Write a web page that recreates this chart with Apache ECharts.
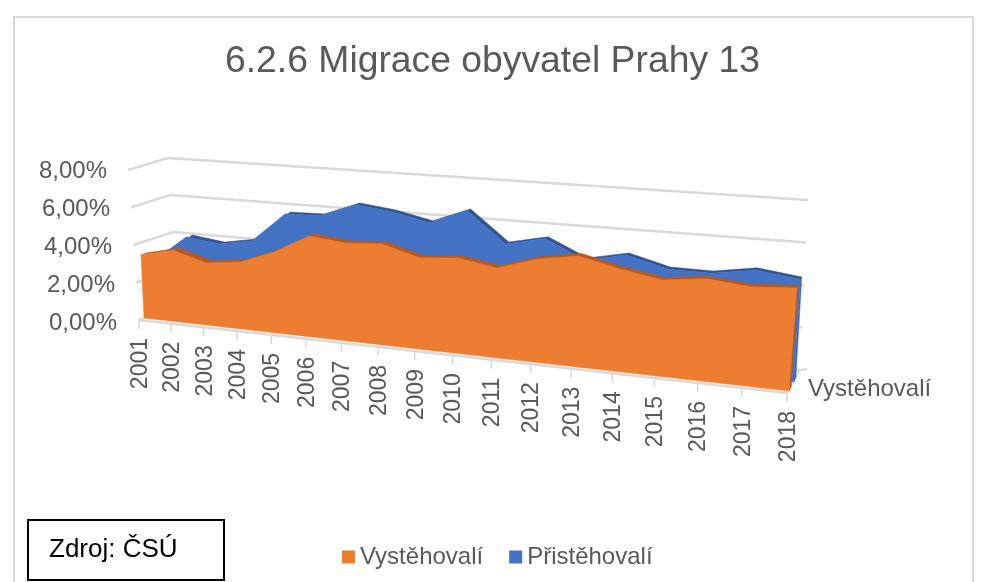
<!DOCTYPE html>
<html><head><meta charset="utf-8">
<style>html,body{margin:0;padding:0;background:#fff}#c{width:981px;height:582px}</style>
<script src="https://cdn.jsdelivr.net/npm/echarts@6/dist/echarts.min.js"></script>
</head><body><div id="c"></div>
<script>
const categories = ['2001','2002','2003','2004','2005','2006','2007','2008','2009','2010','2011','2012','2013','2014','2015','2016','2017','2018'];
const vystehovali = [3.35,3.76,3.24,3.45,4.12,5.08,4.87,4.97,4.44,4.59,4.27,4.85,5.14,4.70,4.36,4.57,4.38,4.50];
const pristehovali = [2.85,4.20,3.97,4.28,5.82,5.86,6.55,6.33,5.92,6.65,5.16,5.56,4.69,5.09,4.58,4.56,4.87,4.62];
const yTicks = [0,2,4,6,8];
const seriesAxisLabel = 'Vystěhovalí';

// Perspective projection settings of the 3D view
const FONT = '"Liberation Sans", Arial, sans-serif';
const TXT = '#595959', GRID = '#d9d9d9';
const GL = 139, GW = 648, GT = 170, GH = 152, YMAX = 8;
const R = 1.2;
const base = {fl:[144,318], fr:[789,391], dl:[34,-12], dr:[11,-21]};
const up = {fl:[-0.9,-18.8], fr:[1.75,-22.9], bl:[-1.25,-18.5], br:[1,-21.25]};
const wall = {fl:[139,320], fr:[787,393], bl:[178,306], br:[800,370], sideUp:[-1.375,-18.75]};
const lerp = (a,b,t)=>a+(b-a)*t;
const persp = u => u/(u+(1-u)*R);

// grid pixel -> projected pixel
function gridNorm(pt){ return [(pt[0]-GL)/GW, (GT+GH-pt[1])/GH*YMAX]; }
function project(pt, d){
  const n = gridNorm(pt), w = persp(n[0]), v = n[1], out=[];
  for(let k=0;k<2;k++){
    const b = lerp(base.fl[k],base.fr[k],w)+d*lerp(base.dl[k],base.dr[k],w);
    const uf = lerp(up.fl[k],up.fr[k],w), ub = lerp(up.bl[k],up.br[k],w);
    out.push(b+v*lerp(uf,ub,d));
  }
  return out;
}
function solid(api, values, d0, d1, colFront, colTop, colSide){
  const n = values.length, c = (i,v)=>api.coord([i,v]);
  const front=[], rear=[];
  for(let i=0;i<n;i++){ front.push(project(c(i,values[i]),d0)); rear.push(project(c(i,values[i]),d1)); }
  const bL=project(c(0,0),d0), bR=project(c(n-1,0),d0), bR1=project(c(n-1,0),d1);
  const poly=(pts,fill)=>({type:'polygon',shape:{points:pts},style:{fill:fill,stroke:fill,lineWidth:0.5}});
  return {type:'group',children:[
    poly(rear.concat(front.slice().reverse()),colTop),
    poly([front[n-1],rear[n-1],bR1,bR],colSide),
    poly([bL].concat(front,[bR]),colFront)
  ]};
}
const seg=(a,b,col,w)=>({type:'line',shape:{x1:a[0],y1:a[1],x2:b[0],y2:b[1]},style:{stroke:col,lineWidth:w}});

function renderWalls(params, api){
  if(params.dataIndex!==0) return null;
  const ch=[];
  yTicks.forEach(t=>{
    const v=(GT+GH-api.coord([0,t])[1])/GH*YMAX;
    const fl=[wall.fl[0]+v*wall.sideUp[0],wall.fl[1]+v*wall.sideUp[1]];
    const bl=[wall.bl[0]+v*up.bl[0],wall.bl[1]+v*up.bl[1]];
    const br=[wall.br[0]+v*up.br[0],wall.br[1]+v*up.br[1]];
    ch.push(seg(fl,bl,GRID,2.4),seg(bl,br,GRID,2.4));
  });
  // floor front edge, right edge and ticks
  ch.push(seg(wall.fl,wall.fr,GRID,2.4),seg(wall.fr,wall.br,GRID,2));
  ch.push(seg(wall.br,[wall.br[0]+7,wall.br[1]-1],GRID,2));
  categories.forEach((label,i)=>{
    const w=persp((api.coord([i,0])[0]-GL)/GW);
    const x=lerp(wall.fl[0],wall.fr[0],w), y=lerp(wall.fl[1],wall.fr[1],w);
    ch.push(seg([x,y],[x,y+9],GRID,1.5));
    ch.push({type:'text',x:x+1.5,y:y+18,rotation:Math.PI/2,
      style:{text:label,align:'right',verticalAlign:'middle',fontSize:23,fontFamily:FONT,fill:TXT}});
  });
  ch.push({type:'text',x:808,y:389,style:{text:seriesAxisLabel,align:'left',verticalAlign:'middle',fontSize:24,fontFamily:FONT,fill:TXT}});
  return {type:'group',children:ch};
}
function renderBack(params, api){
  if(params.dataIndex!==0) return null;
  return solid(api,pristehovali,0.44,0.62,'#4472C4','#2F5597','#3A66B5');
}
function renderFront(params, api){
  if(params.dataIndex!==0) return null;
  return solid(api,vystehovali,0,0.2,'#ED7D31','#B65A1E','#B65A1E');
}
const toData = arr => arr.map((v,i)=>[i,v]);
const rich={}; const pad={0:0,2:2,4:5,6:7,8:10};
yTicks.forEach(t=>{rich['p'+t]={padding:[3,pad[t],0,0],fontSize:24,fontFamily:FONT,color:TXT};});

const chart = echarts.init(document.getElementById('c'),null,{renderer:'canvas'});
chart.setOption({
  animation:false,
  backgroundColor:'#fff',
  title:{text:'6.2.6 Migrace obyvatel Prahy 13',left:220,top:38,
    textStyle:{fontFamily:FONT,fontSize:37.3,fontWeight:'normal',color:TXT}},
  legend:{data:['Vystěhovalí','Přistěhovalí'],left:337,top:540,itemWidth:13,itemHeight:13,itemGap:26,icon:'rect',
    textStyle:{fontFamily:FONT,fontSize:24,color:TXT,padding:[0,0,0,0]}},
  grid:{left:GL,top:GT,width:GW,height:GH,containLabel:false},
  xAxis:{type:'category',data:categories,boundaryGap:false,axisLine:{show:false},axisTick:{show:false},axisLabel:{show:false},splitLine:{show:false}},
  yAxis:{type:'value',min:0,max:YMAX,interval:2,axisLine:{show:false},axisTick:{show:false},splitLine:{show:false},
    axisLabel:{margin:22,formatter:v=>'{p'+v+'|'+v.toFixed(2).replace('.',',')+'%}',rich:rich}},
  graphic:[
    {type:'rect',silent:true,z:-1,shape:{x:14,y:17,width:959,height:600},style:{fill:'#fff',stroke:'#d9d9d9',lineWidth:2}},
    {type:'rect',silent:true,z:10,shape:{x:28,y:520,width:196,height:60},style:{fill:'#fff',stroke:'#000',lineWidth:2}},
    {type:'text',silent:true,z:11,x:49,y:550,style:{text:'Zdroj: ČSÚ',fontFamily:FONT,fontSize:26,fill:'#000',verticalAlign:'middle'}}
  ],
  series:[
    {type:'custom',name:'walls',z:1,silent:true,clip:false,renderItem:renderWalls,data:toData(vystehovali),encode:{x:0,y:1}},
    {type:'custom',name:'Přistěhovalí',z:2,silent:true,clip:false,renderItem:renderBack,itemStyle:{color:'#4472C4'},data:toData(pristehovali),encode:{x:0,y:1}},
    {type:'custom',name:'Vystěhovalí',z:3,silent:true,clip:false,renderItem:renderFront,itemStyle:{color:'#ED7D31'},data:toData(vystehovali),encode:{x:0,y:1}}
  ]
});
</script></body></html>
